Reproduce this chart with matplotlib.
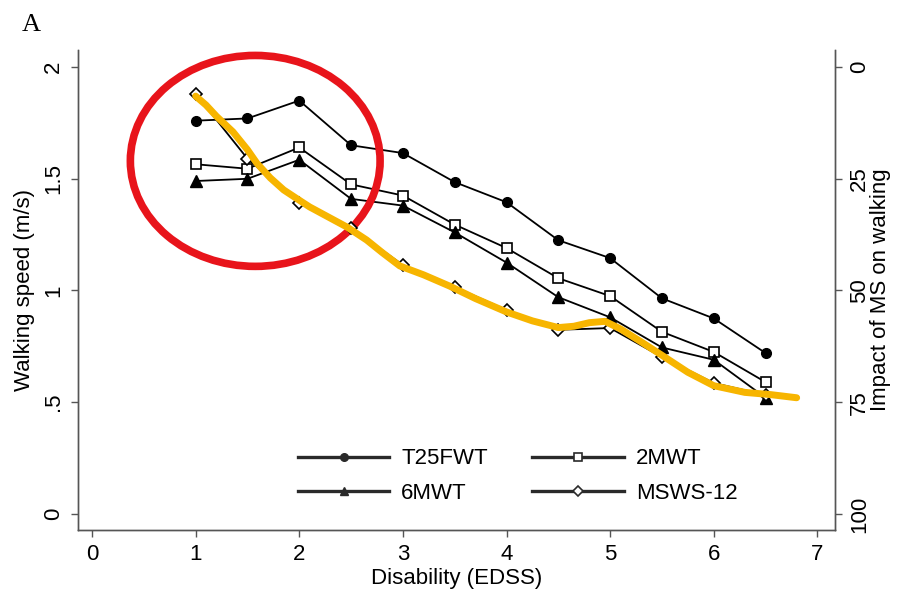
import matplotlib.pyplot as plt
from matplotlib.patches import Ellipse

plt.rcParams['font.family'] = ['Liberation Sans', 'DejaVu Sans']

# ---- data ----
edss = [1, 1.5, 2, 2.5, 3, 3.5, 4, 4.5, 5, 5.5, 6, 6.5]
t25fwt = [1.76, 1.77, 1.85, 1.65, 1.615, 1.485, 1.395, 1.225, 1.145, 0.965, 0.875, 0.72]
mwt2 = [1.565, 1.545, 1.64, 1.475, 1.425, 1.295, 1.19, 1.055, 0.975, 0.815, 0.725, 0.59]
mwt6 = [1.49, 1.50, 1.585, 1.41, 1.38, 1.26, 1.125, 0.97, 0.88, 0.745, 0.69, 0.52]
msws12 = [6.0, 20.5, 30.5, 36.0, 44.3, 49.2, 54.4, 58.8, 58.4, 64.9, 70.7, 73.4]

# hand-drawn yellow overlay (in MSWS-12 units)
hl_x = [1.0, 1.1, 1.2, 1.36, 1.5, 1.59, 1.72, 1.85, 2.0, 2.1, 2.3, 2.46, 2.65, 2.8, 2.97,
        3.2, 3.45, 3.7, 4.0, 4.25, 4.5, 4.65, 4.8, 4.95, 5.1, 5.3, 5.5, 5.75, 6.0,
        6.3, 6.55, 6.8]
hl_y = [6.5, 8.5, 11.0, 14.5, 18.5, 21.5, 24.8, 27.5, 29.8, 31.3, 33.8, 35.8, 38.7,
        41.5, 44.5, 46.5, 49.0, 51.8, 54.8, 56.8, 58.3, 58.0, 57.2, 56.9, 58.6,
        61.5, 64.5, 68.3, 71.3, 72.8, 73.3, 74.0]

x_ticks = [0, 1, 2, 3, 4, 5, 6, 7]
left_ticks = [0, 0.5, 1, 1.5, 2]
left_labels = ['0', '.5', '1', '1.5', '2']
right_ticks = [0, 25, 50, 75, 100]

fig = plt.figure(figsize=(8.99, 5.94), dpi=100)
ax = fig.add_axes([0.0868, 0.1077, 0.842, 0.808])
ax2 = ax.twinx()

lw = 1.3
ax.plot(edss, t25fwt, color='black', lw=lw, marker='o', ms=7, label='T25FWT')
ax.plot(edss, mwt2, color='black', lw=lw, marker='s', ms=7.5, mfc='white', mew=1.2, label='2MWT')
ax.plot(edss, mwt6, color='black', lw=lw, marker='^', ms=8, label='6MWT')
ax2.plot(edss, msws12, color='black', lw=lw, marker='D', ms=6.5, mfc='white', mew=1.2, label='MSWS-12')

ax2.plot(hl_x, hl_y, color='#F7B500', lw=5, solid_capstyle='round', solid_joinstyle='round', zorder=5)

ax.set_xlim(-0.135, 7.17)
ax.set_ylim(-0.072, 2.076)
ax2.set_ylim(103.6, -3.8)

ax.set_xticks(x_ticks)
ax.set_yticks(left_ticks)
ax.set_yticklabels(left_labels, rotation=90, va='center')
ax2.set_yticks(right_ticks)
ax2.set_yticklabels([str(t) for t in right_ticks], rotation=90, va='center')

for a in (ax, ax2):
    a.spines['top'].set_visible(False)
    for s in ('left', 'right', 'bottom'):
        a.spines[s].set_color('#555555')
        a.spines[s].set_linewidth(1.0)
    a.tick_params(labelsize=16, length=5, color='#555555', width=1.0, pad=5)

ax.set_xlabel('Disability (EDSS)', fontsize=16, labelpad=2)
ax.set_ylabel('Walking speed (m/s)', fontsize=16, labelpad=6)
ax2.set_ylabel('Impact of MS on walking', fontsize=16, labelpad=0)

# red circle annotation
circ = Ellipse((1.575, 1.58), 2.41, 0.944, fill=False, edgecolor='#E8141B', lw=5.5,
               zorder=6, clip_on=False)
ax.add_patch(circ)

h1, l1 = ax.get_legend_handles_labels()
h2, l2 = ax2.get_legend_handles_labels()
# column-major fill -> T25FWT, 6MWT | 2MWT, MSWS-12
handles = [h1[0], h1[2], h1[1], h2[0]]
labels = [l1[0], l1[2], l1[1], l2[0]]
leg = ax2.legend(handles, labels, ncol=2, frameon=False, loc='upper left',
                 bbox_to_anchor=(0.2906, 0.17), borderaxespad=0, borderpad=0,
                 fontsize=16, handlelength=4.1, columnspacing=2.0,
                 handletextpad=0.55, labelspacing=0.62)
for line in leg.get_lines():
    line.set_linewidth(2.4)
    line.set_color('#2a2a2a')
    line.set_markersize(5.5)

fig.text(0.024, 0.958, 'A', fontsize=19, family='Liberation Serif', va='center')

plt.savefig('out.png', dpi=100)
